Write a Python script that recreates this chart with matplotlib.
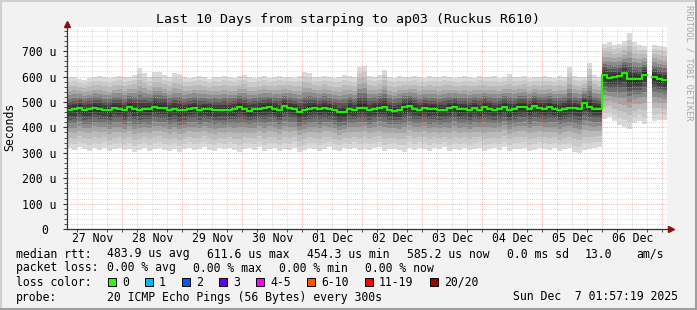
import matplotlib
matplotlib.use("Agg")
import matplotlib.pyplot as plt
from matplotlib.patches import Rectangle
from matplotlib.lines import Line2D
import numpy as np

# 2 hour steps, hours counted from 27 Nov 00:00; first step starts at 02:00
step_hours = 2
start_hour = 2

median_us = [468, 472, 478, 468, 472, 478, 474, 468, 468, 478, 474, 468, 481, 474, 468, 472, 474, 481, 478, 478,
             468, 472, 468, 468, 474, 478, 468, 474, 471, 468, 468, 468, 468, 472, 481, 474, 465, 472, 474, 477,
             481, 474, 468, 485, 478, 474, 461, 468, 472, 478, 474, 478, 472, 468, 459, 461, 474, 468, 478, 478,
             468, 474, 478, 481, 468, 465, 468, 481, 485, 474, 468, 478, 472, 472, 468, 468, 478, 481, 472, 472,
             468, 477, 468, 481, 474, 468, 474, 481, 468, 474, 481, 481, 474, 485, 477, 474, 481, 474, 468, 474,
             477, 477, 474, 494, 481, 474, 474, 606, 595, 599, 603, 612, 592, 590, 590, 608, np.nan, 599, 590, 586]

max_us = [598, 600, 590, 588, 596, 600, 602, 598, 594, 600, 604, 598, 600, 606, 633, 612, 600, 617, 619, 605,
          600, 612, 610, 598, 596, 600, 604, 598, 592, 600, 598, 604, 600, 596, 602, 606, 598, 594, 600, 602,
          596, 600, 604, 598, 600, 596, 602, 619, 615, 600, 598, 604, 600, 596, 600, 606, 602, 598, 638, 642,
          604, 600, 606, 625, 600, 596, 602, 598, 600, 604, 598, 596, 602, 600, 598, 604, 600, 596, 598, 602,
          600, 596, 604, 598, 600, 602, 596, 600, 610, 598, 600, 604, 596, 600, 598, 602, 600, 596, 604, 600,
          638, 602, 598, 600, 655, 606, 598, 730, 735, 725, 728, 740, 770, 735, 725, 720, np.nan, 725, 722, 718]

min_us = [318, 310, 322, 316, 308, 318, 312, 320, 306, 314, 318, 310, 316, 302, 312, 318, 306, 316, 320, 312,
          308, 316, 304, 314, 320, 310, 316, 322, 312, 306, 318, 314, 320, 310, 304, 316, 318, 312, 322, 308,
          314, 318, 306, 316, 312, 320, 302, 310, 318, 314, 306, 316, 322, 312, 308, 318, 314, 320, 310, 316,
          312, 318, 322, 306, 314, 316, 310, 304, 318, 312, 320, 316, 308, 318, 314, 322, 306, 316, 312, 318,
          310, 316, 320, 306, 314, 318, 312, 322, 308, 316, 314, 318, 306, 310, 320, 316, 312, 318, 306, 314,
          318, 304, 300, 312, 316, 320, 322, 432, 440, 425, 410, 400, 392, 418, 424, 415, np.nan, 426, 430, 428]

day_labels = ["27 Nov", "28 Nov", "29 Nov", "30 Nov", "01 Dec", "02 Dec", "03 Dec", "04 Dec", "05 Dec", "06 Dec"]
ytick_values = [0, 100, 200, 300, 400, 500, 600, 700]
ytick_labels = ["0 ", "100 u", "200 u", "300 u", "400 u", "500 u", "600 u", "700 u"]

loss_labels = ["0", "1", "2", "3", "4-5", "6-10", "11-19", "20/20"]
loss_colors = ["#26ff00", "#00b8ff", "#0059ff", "#5e00ff", "#ff00ff", "#ff5500", "#ff0000", "#a10000"]

mono = "DejaVu Sans Mono"
plt.rcParams["font.family"] = mono

W, H = 697, 310
fig = plt.figure(figsize=(W / 100, H / 100), dpi=100, facecolor="#f2f2f2")

def fx(px):
    return px / W

def fy(py):
    return 1 - py / H

ax = fig.add_axes([fx(67), fy(229), fx(600), (229 - 27) / H])
ax.set_facecolor("white")
ax.set_xlim(1.95, 241.95)
ax.set_ylim(0, 795)

med = np.array(median_us, dtype=float)
hi = np.array(max_us, dtype=float)
lo = np.array(min_us, dtype=float)
n = len(med)
t = start_hour + step_hours * np.arange(n + 1)

# split into runs without missing data
valid = ~np.isnan(med)
runs = []
i = 0
while i < n:
    if valid[i]:
        j = i
        while j < n and valid[j]:
            j += 1
        runs.append((i, j))
        i = j
    else:
        i += 1

# smoke: nested gray bands between the median and the ping envelope
levels = [1.0, 0.86, 0.72, 0.58, 0.46, 0.35, 0.25, 0.16, 0.08]
grays = ["#dadada", "#cbcbcb", "#bababa", "#a5a5a5", "#8c8c8c", "#717171", "#575757", "#3e3e3e", "#2c2c2c"]
for a, b in runs:
    tt = t[a:b + 1]
    m = np.append(med[a:b], med[b - 1])
    h = np.append(hi[a:b], hi[b - 1])
    l = np.append(lo[a:b], lo[b - 1])
    for k, g in zip(levels, grays):
        ax.fill_between(tt, m - k * (m - l), m + k * (h - m), step="post", color=g, lw=0, zorder=2)
    ax.step(tt, m, where="post", color="#22ee00", lw=1.6, zorder=4)

# grid (rrdtool style, drawn over the smoke)
for v in range(0, 800, 20):
    if v % 100:
        ax.axhline(v, color="#b8b8b8", lw=0.6, ls=(0, (1, 1.5)), alpha=0.7, zorder=3)
for v in range(100, 800, 100):
    ax.axhline(v, color="#e07070", lw=0.6, ls=(0, (1, 1.5)), alpha=0.7, zorder=3)
for hr in range(6, 242, 6):
    if hr % 24:
        ax.axvline(hr, color="#b8b8b8", lw=0.6, ls=(0, (1, 1.5)), alpha=0.7, zorder=3)
for hr in range(24, 242, 24):
    ax.axvline(hr, color="#e07070", lw=0.6, ls=(0, (1, 1.5)), alpha=0.7, zorder=3)

for s in ["top", "right"]:
    ax.spines[s].set_visible(False)
for s in ["left", "bottom"]:
    ax.spines[s].set_color("#333333")
    ax.spines[s].set_linewidth(0.9)
    ax.spines[s].set_zorder(5)

ax.set_yticks(ytick_values)
ax.set_yticklabels(ytick_labels)
ax.set_yticks(range(0, 800, 20), minor=True)
ax.tick_params(axis="y", which="major", length=3, width=0.8, color="#333333", pad=5, labelsize=8.3)
ax.tick_params(axis="y", which="minor", length=2, width=0.6, color="#333333")

ax.set_xticks([12 + 24 * i for i in range(len(day_labels))])
ax.set_xticklabels(day_labels)
ax.set_xticks(range(6, 242, 6), minor=True)
ax.tick_params(axis="x", which="major", length=0, pad=2.5, labelsize=8.3)
ax.tick_params(axis="x", which="minor", length=2, width=0.6, color="#333333")

# axis arrows
fig.add_artist(Line2D([fx(67)], [fy(24)], marker="^", ms=5, color="#8b1010", lw=0))
fig.add_artist(Line2D([fx(671)], [fy(229)], marker=">", ms=5, color="#8b1010", lw=0))

fig.text(fx(348), fy(19), "Last 10 Days from starping to ap03 (Ruckus R610)",
         ha="center", va="center", fontsize=9.5, color="black")
fig.text(fx(10), fy(127), "Seconds", rotation=90, ha="center", va="center", fontsize=8.3)
fig.text(fx(689), fy(5), "RRDTOOL / TOBI OETIKER", rotation=270, ha="center", va="top",
         fontsize=6.2, color="#a8a8a8")

fs = 8.3
char_w = 7
gap = 16

row1 = fy(254)
fig.text(fx(16), row1, "median rtt:", va="center", fontsize=fs)
for x0, s in [(107, "483.9 us avg"), (207, "611.6 us max"), (307, "454.3 us min"),
              (407, "585.2 us now"), (507, "0.0 ms sd"), (585, "13.0"), (636, "am/s")]:
    fig.text(fx(x0), row1, s, va="center", fontsize=fs)

row2 = fy(268)
fig.text(fx(16), row2, "packet loss:", va="center", fontsize=fs)
for x0, s in [(107, "0.00 % avg"), (193, "0.00 % max"), (279, "0.00 % min"), (365, "0.00 % now")]:
    fig.text(fx(x0), row2, s, va="center", fontsize=fs)

row3 = fy(282)
fig.text(fx(16), row3, "loss color:", va="center", fontsize=fs)
bx = 108
for lab, col in zip(loss_labels, loss_colors):
    fig.add_artist(Rectangle((fx(bx), fy(286)), fx(8), 8 / H, facecolor=col,
                             edgecolor="black", lw=0.7))
    fig.text(fx(bx + 14), row3, lab, va="center", fontsize=fs)
    bx += 14 + char_w * len(lab) + gap

row4 = fy(297)
fig.text(fx(16), row4, "probe:", va="center", fontsize=fs)
fig.text(fx(107), row4, "20 ICMP Echo Pings (56 Bytes) every 300s", va="center", fontsize=fs)
fig.text(fx(513), row4, "Sun Dec  7 01:57:19 2025", va="center", fontsize=fs)

# outer frame shading
fig.add_artist(Line2D([0, 1], [fy(0.5), fy(0.5)], color="#d0d0d0", lw=1.5))
fig.add_artist(Line2D([fx(0.5), fx(0.5)], [0, 1], color="#d0d0d0", lw=1.5))
fig.add_artist(Line2D([0, 1], [fy(309), fy(309)], color="#9e9e9e", lw=1.5))
fig.add_artist(Line2D([fx(696), fx(696)], [0, 1], color="#9e9e9e", lw=1.5))

fig.savefig("out.png", dpi=100, facecolor=fig.get_facecolor())
